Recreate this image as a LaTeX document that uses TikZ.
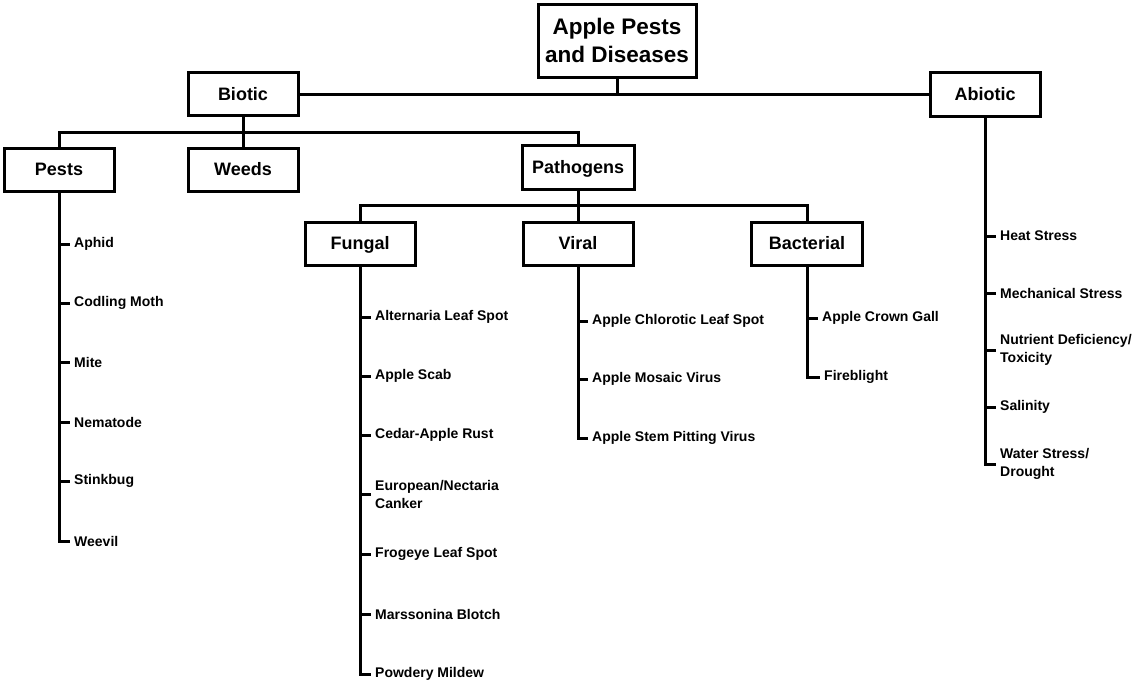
\documentclass[tikz,border=0pt]{standalone}
\usepackage{fontspec}
\setmainfont{Liberation Sans}
\begin{document}
\begin{tikzpicture}[x=1pt,y=-1pt,
  box/.style={draw,line width=3pt,font=\bfseries\fontsize{18}{21}\selectfont,inner sep=0pt,text height=12.9pt,text depth=0pt},
  leaf/.style={anchor=west,inner xsep=4pt,inner ysep=1pt,align=left,font=\bfseries\fontsize{14}{18}\selectfont},
  conn/.style={line width=3pt}]
\useasboundingbox (0,0) rectangle (1132,681);
% boxes
\node[box,minimum width=158pt,minimum height=73pt,align=center,text height=,text depth=,font=\bfseries\fontsize{22.5}{28}\selectfont] (root) at (617,40.5) {Apple Pests\\and Diseases};
\node[box,minimum width=110pt,minimum height=43pt] (biotic) at (243,94) {Biotic};
\node[box,minimum width=110pt,minimum height=44pt] (abiotic) at (985,94) {Abiotic};
\node[box,minimum width=110pt,minimum height=43pt] (pests) at (59,169.5) {Pests};
\node[box,minimum width=110pt,minimum height=43pt] (weeds) at (243,169.5) {Weeds};
\node[box,minimum width=112pt,minimum height=44pt] (pathogens) at (578,167) {Pathogens};
\node[box,minimum width=110pt,minimum height=43pt] (fungal) at (360,243.5) {Fungal};
\node[box,minimum width=110pt,minimum height=43pt] (viral) at (578,243.5) {Viral};
\node[box,minimum width=111pt,minimum height=43pt] (bacterial) at (807,243.5) {Bacterial};
% tree connectors
\coordinate (bar1) at (617,94);
\draw[conn] (root.south) -- (bar1);
\draw[conn] (biotic.east) -- (abiotic.west);
\coordinate (bar2) at (243,132);
\draw[conn] (biotic.south) -- (bar2);
\draw[conn] (pests.north) |- (bar2) -| (pathogens.north);
\draw[conn] (bar2) -- (weeds.north);
\coordinate (bar3) at (578,205);
\draw[conn] (pathogens.south) -- (bar3);
\draw[conn] (fungal.north) |- (bar3) -| (bacterial.north);
\draw[conn] (bar3) -- (viral.north);
% pests leaves
\node[leaf] (aphid) at (70,244) {Aphid};
\node[leaf] (codling) at (70,303) {Codling Moth};
\node[leaf] (mite) at (70,362) {Mite};
\node[leaf] (nematode) at (70,422) {Nematode};
\node[leaf] (stinkbug) at (70,481) {Stinkbug};
\node[leaf] (weevil) at (70,541) {Weevil};
\draw[conn] (pests.south) |- (weevil.west);
\foreach \n in {aphid,codling,mite,nematode,stinkbug}
  \draw[conn] (pests.south |- \n.west) -- (\n.west);
% fungal leaves
\node[leaf] (alt) at (371,317) {Alternaria Leaf Spot};
\node[leaf] (scab) at (371,376) {Apple Scab};
\node[leaf] (cedar) at (371,435) {Cedar-Apple Rust};
\node[leaf] (euro) at (371,494) {European/Nectaria\\Canker};
\node[leaf] (frog) at (371,554) {Frogeye Leaf Spot};
\node[leaf] (mars) at (371,614) {Marssonina Blotch};
\node[leaf] (powd) at (371,674) {Powdery Mildew};
\draw[conn] (fungal.south) |- (powd.west);
\foreach \n in {alt,scab,cedar,euro,frog,mars}
  \draw[conn] (fungal.south |- \n.west) -- (\n.west);
% viral leaves
\node[leaf] (chl) at (588,321) {Apple Chlorotic Leaf Spot};
\node[leaf] (mos) at (588,379) {Apple Mosaic Virus};
\node[leaf] (stem) at (588,438) {Apple Stem Pitting Virus};
\draw[conn] (viral.south) |- (stem.west);
\foreach \n in {chl,mos}
  \draw[conn] (viral.south |- \n.west) -- (\n.west);
% bacterial leaves
\node[leaf] (crown) at (818,318) {Apple Crown Gall};
\node[leaf] (fire) at (820,377) {Fireblight};
\draw[conn] (bacterial.south) |- (fire.west);
\draw[conn] (bacterial.south |- crown.west) -- (crown.west);
% abiotic leaves
\node[leaf] (heat) at (996,236) {Heat Stress};
\node[leaf] (mech) at (996,293) {Mechanical Stress};
\node[leaf] (nutr) at (996,350) {Nutrient Deficiency/\\Toxicity};
\node[leaf] (sal) at (996,407) {Salinity};
\node[leaf] (water) at (996,464) {Water Stress/\\Drought};
\draw[conn] (abiotic.south) |- (water.west);
\foreach \n in {heat,mech,nutr,sal}
  \draw[conn] (abiotic.south |- \n.west) -- (\n.west);
\end{tikzpicture}
\end{document}
